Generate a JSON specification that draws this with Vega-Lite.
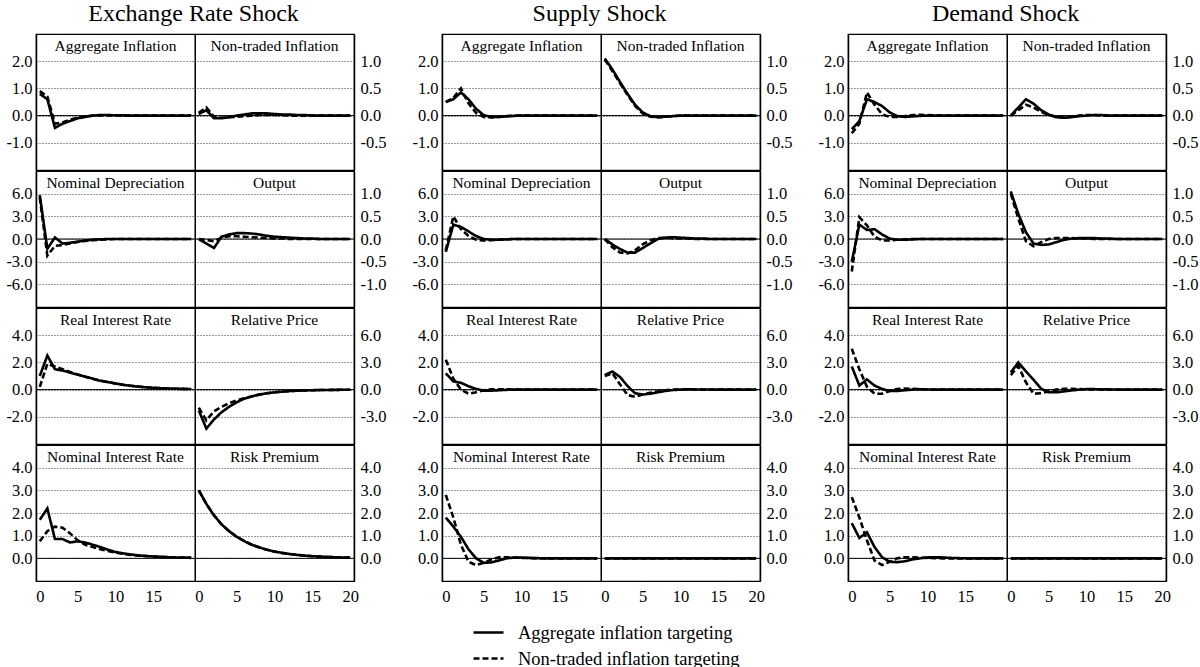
{"$schema":"https://vega.github.io/schema/vega-lite/v6.json","padding":{"top":2,"left":0,"right":0,"bottom":0},"autosize":{"type":"pad"},
"datasets":{
"E1":[{"t":0,"a":0.8,"n":0.9},{"t":1,"a":0.6,"n":0.7},{"t":2,"a":-0.45,"n":-0.3},{"t":3,"a":-0.3,"n":-0.25},{"t":4,"a":-0.2,"n":-0.15},{"t":5,"a":-0.1,"n":-0.08},{"t":6,"a":-0.05,"n":-0.03},{"t":7,"a":0,"n":0},{"t":8,"a":0.02,"n":0.01},{"t":9,"a":0.02,"n":0.01},{"t":10,"a":0.01,"n":0.01},{"t":11,"a":0.01,"n":0},{"t":12,"a":0,"n":0},{"t":13,"a":0,"n":0},{"t":14,"a":0,"n":0},{"t":15,"a":0,"n":0},{"t":16,"a":0,"n":0},{"t":17,"a":0,"n":0},{"t":18,"a":0,"n":0},{"t":19,"a":0,"n":0},{"t":20,"a":0,"n":0}],
"E2":[{"t":0,"a":0.03,"n":0.05},{"t":1,"a":0.1,"n":0.15},{"t":2,"a":-0.05,"n":-0.02},{"t":3,"a":-0.05,"n":-0.04},{"t":4,"a":-0.03,"n":-0.03},{"t":5,"a":0,"n":-0.02},{"t":6,"a":0.02,"n":-0.01},{"t":7,"a":0.04,"n":0},{"t":8,"a":0.04,"n":0.01},{"t":9,"a":0.04,"n":0.01},{"t":10,"a":0.03,"n":0.01},{"t":11,"a":0.02,"n":0.01},{"t":12,"a":0.02,"n":0},{"t":13,"a":0.01,"n":0},{"t":14,"a":0.01,"n":0},{"t":15,"a":0,"n":0},{"t":16,"a":0,"n":0},{"t":17,"a":0,"n":0},{"t":18,"a":0,"n":0},{"t":19,"a":0,"n":0},{"t":20,"a":0,"n":0}],
"E3":[{"t":0,"a":5.8,"n":5.5},{"t":1,"a":-1.3,"n":-2.2},{"t":2,"a":0.2,"n":-0.9},{"t":3,"a":-0.6,"n":-0.8},{"t":4,"a":-0.5,"n":-0.6},{"t":5,"a":-0.35,"n":-0.4},{"t":6,"a":-0.2,"n":-0.25},{"t":7,"a":-0.1,"n":-0.15},{"t":8,"a":-0.05,"n":-0.1},{"t":9,"a":0,"n":-0.05},{"t":10,"a":0,"n":0},{"t":11,"a":0,"n":0},{"t":12,"a":0,"n":0},{"t":13,"a":0,"n":0},{"t":14,"a":0,"n":0},{"t":15,"a":0,"n":0},{"t":16,"a":0,"n":0},{"t":17,"a":0,"n":0},{"t":18,"a":0,"n":0},{"t":19,"a":0,"n":0},{"t":20,"a":0,"n":0}],
"E4":[{"t":0,"a":0,"n":0},{"t":1,"a":-0.1,"n":-0.02},{"t":2,"a":-0.2,"n":-0.05},{"t":3,"a":0.05,"n":0.03},{"t":4,"a":0.1,"n":0.06},{"t":5,"a":0.13,"n":0.06},{"t":6,"a":0.13,"n":0.05},{"t":7,"a":0.12,"n":0.04},{"t":8,"a":0.1,"n":0.03},{"t":9,"a":0.07,"n":0.02},{"t":10,"a":0.05,"n":0.01},{"t":11,"a":0.04,"n":0.01},{"t":12,"a":0.03,"n":0},{"t":13,"a":0.02,"n":0},{"t":14,"a":0.01,"n":0},{"t":15,"a":0.01,"n":0},{"t":16,"a":0,"n":0},{"t":17,"a":0,"n":0},{"t":18,"a":0,"n":0},{"t":19,"a":0,"n":0},{"t":20,"a":0,"n":0}],
"E5":[{"t":0,"a":1.0,"n":0.2},{"t":1,"a":2.5,"n":1.9},{"t":2,"a":1.5,"n":1.7},{"t":3,"a":1.4,"n":1.5},{"t":4,"a":1.25,"n":1.3},{"t":5,"a":1.1,"n":1.12},{"t":6,"a":0.95,"n":0.95},{"t":7,"a":0.8,"n":0.8},{"t":8,"a":0.65,"n":0.66},{"t":9,"a":0.55,"n":0.55},{"t":10,"a":0.45,"n":0.45},{"t":11,"a":0.35,"n":0.36},{"t":12,"a":0.28,"n":0.28},{"t":13,"a":0.22,"n":0.22},{"t":14,"a":0.17,"n":0.17},{"t":15,"a":0.13,"n":0.13},{"t":16,"a":0.1,"n":0.1},{"t":17,"a":0.08,"n":0.08},{"t":18,"a":0.06,"n":0.06},{"t":19,"a":0.05,"n":0.05},{"t":20,"a":0.04,"n":0.04}],
"E6":[{"t":0,"a":-2.3,"n":-2.0},{"t":1,"a":-4.3,"n":-3.4},{"t":2,"a":-3.3,"n":-2.4},{"t":3,"a":-2.5,"n":-1.9},{"t":4,"a":-1.9,"n":-1.5},{"t":5,"a":-1.4,"n":-1.2},{"t":6,"a":-1.0,"n":-0.95},{"t":7,"a":-0.75,"n":-0.75},{"t":8,"a":-0.55,"n":-0.55},{"t":9,"a":-0.4,"n":-0.4},{"t":10,"a":-0.3,"n":-0.3},{"t":11,"a":-0.22,"n":-0.22},{"t":12,"a":-0.16,"n":-0.16},{"t":13,"a":-0.12,"n":-0.12},{"t":14,"a":-0.09,"n":-0.09},{"t":15,"a":-0.07,"n":-0.07},{"t":16,"a":-0.05,"n":-0.05},{"t":17,"a":-0.04,"n":-0.04},{"t":18,"a":-0.03,"n":-0.03},{"t":19,"a":-0.02,"n":-0.02},{"t":20,"a":-0.01,"n":-0.01}],
"E7":[{"t":0,"a":1.7,"n":0.75},{"t":1,"a":2.2,"n":1.2},{"t":2,"a":0.85,"n":1.4},{"t":3,"a":0.85,"n":1.35},{"t":4,"a":0.7,"n":1.1},{"t":5,"a":0.75,"n":0.8},{"t":6,"a":0.7,"n":0.6},{"t":7,"a":0.6,"n":0.5},{"t":8,"a":0.5,"n":0.4},{"t":9,"a":0.38,"n":0.32},{"t":10,"a":0.28,"n":0.25},{"t":11,"a":0.22,"n":0.2},{"t":12,"a":0.17,"n":0.15},{"t":13,"a":0.13,"n":0.12},{"t":14,"a":0.1,"n":0.1},{"t":15,"a":0.08,"n":0.08},{"t":16,"a":0.07,"n":0.06},{"t":17,"a":0.05,"n":0.05},{"t":18,"a":0.04,"n":0.04},{"t":19,"a":0.03,"n":0.03},{"t":20,"a":0.03,"n":0.02}],
"E8":[{"t":0,"a":3,"n":3},{"t":1,"a":2.4,"n":2.4},{"t":2,"a":1.9,"n":1.9},{"t":3,"a":1.5,"n":1.5},{"t":4,"a":1.2,"n":1.2},{"t":5,"a":0.95,"n":0.95},{"t":6,"a":0.76,"n":0.76},{"t":7,"a":0.6,"n":0.6},{"t":8,"a":0.48,"n":0.48},{"t":9,"a":0.38,"n":0.38},{"t":10,"a":0.3,"n":0.3},{"t":11,"a":0.24,"n":0.24},{"t":12,"a":0.19,"n":0.19},{"t":13,"a":0.15,"n":0.15},{"t":14,"a":0.12,"n":0.12},{"t":15,"a":0.095,"n":0.095},{"t":16,"a":0.076,"n":0.076},{"t":17,"a":0.06,"n":0.06},{"t":18,"a":0.048,"n":0.048},{"t":19,"a":0.038,"n":0.038},{"t":20,"a":0.03,"n":0.03}],
"S1":[{"t":0,"a":0.5,"n":0.5},{"t":1,"a":0.6,"n":0.65},{"t":2,"a":0.85,"n":1.0},{"t":3,"a":0.6,"n":0.45},{"t":4,"a":0.25,"n":0.1},{"t":5,"a":0.02,"n":-0.05},{"t":6,"a":-0.05,"n":-0.07},{"t":7,"a":-0.05,"n":-0.05},{"t":8,"a":-0.03,"n":-0.02},{"t":9,"a":-0.01,"n":0},{"t":10,"a":0,"n":0},{"t":11,"a":0,"n":0},{"t":12,"a":0,"n":0},{"t":13,"a":0,"n":0},{"t":14,"a":0,"n":0},{"t":15,"a":0,"n":0},{"t":16,"a":0,"n":0},{"t":17,"a":0,"n":0},{"t":18,"a":0,"n":0},{"t":19,"a":0,"n":0},{"t":20,"a":0,"n":0}],
"S2":[{"t":0,"a":1.05,"n":1.03},{"t":1,"a":0.85,"n":0.82},{"t":2,"a":0.62,"n":0.6},{"t":3,"a":0.4,"n":0.38},{"t":4,"a":0.2,"n":0.18},{"t":5,"a":0.06,"n":0.04},{"t":6,"a":-0.01,"n":-0.02},{"t":7,"a":-0.03,"n":-0.03},{"t":8,"a":-0.02,"n":-0.02},{"t":9,"a":-0.01,"n":-0.01},{"t":10,"a":0,"n":0},{"t":11,"a":0,"n":0},{"t":12,"a":0,"n":0},{"t":13,"a":0,"n":0},{"t":14,"a":0,"n":0},{"t":15,"a":0,"n":0},{"t":16,"a":0,"n":0},{"t":17,"a":0,"n":0},{"t":18,"a":0,"n":0},{"t":19,"a":0,"n":0},{"t":20,"a":0,"n":0}],
"S3":[{"t":0,"a":-1.7,"n":-1.5},{"t":1,"a":1.9,"n":3.0},{"t":2,"a":1.6,"n":1.3},{"t":3,"a":1.0,"n":0.4},{"t":4,"a":0.4,"n":-0.1},{"t":5,"a":0,"n":-0.2},{"t":6,"a":-0.1,"n":-0.15},{"t":7,"a":-0.1,"n":-0.1},{"t":8,"a":-0.05,"n":-0.05},{"t":9,"a":0,"n":0},{"t":10,"a":0,"n":0},{"t":11,"a":0,"n":0},{"t":12,"a":0,"n":0},{"t":13,"a":0,"n":0},{"t":14,"a":0,"n":0},{"t":15,"a":0,"n":0},{"t":16,"a":0,"n":0},{"t":17,"a":0,"n":0},{"t":18,"a":0,"n":0},{"t":19,"a":0,"n":0},{"t":20,"a":0,"n":0}],
"S4":[{"t":0,"a":0,"n":0},{"t":1,"a":-0.12,"n":-0.18},{"t":2,"a":-0.22,"n":-0.3},{"t":3,"a":-0.3,"n":-0.32},{"t":4,"a":-0.3,"n":-0.25},{"t":5,"a":-0.2,"n":-0.12},{"t":6,"a":-0.1,"n":-0.03},{"t":7,"a":0,"n":0.02},{"t":8,"a":0.03,"n":0.03},{"t":9,"a":0.04,"n":0.02},{"t":10,"a":0.03,"n":0.01},{"t":11,"a":0.02,"n":0.01},{"t":12,"a":0.01,"n":0},{"t":13,"a":0.01,"n":0},{"t":14,"a":0,"n":0},{"t":15,"a":0,"n":0},{"t":16,"a":0,"n":0},{"t":17,"a":0,"n":0},{"t":18,"a":0,"n":0},{"t":19,"a":0,"n":0},{"t":20,"a":0,"n":0}],
"S5":[{"t":0,"a":1.2,"n":2.2},{"t":1,"a":0.6,"n":0.8},{"t":2,"a":0.5,"n":0},{"t":3,"a":0.25,"n":-0.3},{"t":4,"a":0.05,"n":-0.2},{"t":5,"a":-0.08,"n":-0.05},{"t":6,"a":-0.08,"n":0.02},{"t":7,"a":-0.05,"n":0.03},{"t":8,"a":-0.02,"n":0.02},{"t":9,"a":0,"n":0.01},{"t":10,"a":0,"n":0},{"t":11,"a":0,"n":0},{"t":12,"a":0,"n":0},{"t":13,"a":0,"n":0},{"t":14,"a":0,"n":0},{"t":15,"a":0,"n":0},{"t":16,"a":0,"n":0},{"t":17,"a":0,"n":0},{"t":18,"a":0,"n":0},{"t":19,"a":0,"n":0},{"t":20,"a":0,"n":0}],
"S6":[{"t":0,"a":1.6,"n":1.5},{"t":1,"a":2.0,"n":1.8},{"t":2,"a":1.4,"n":0.6},{"t":3,"a":0.4,"n":-0.6},{"t":4,"a":-0.4,"n":-0.8},{"t":5,"a":-0.55,"n":-0.55},{"t":6,"a":-0.45,"n":-0.35},{"t":7,"a":-0.3,"n":-0.2},{"t":8,"a":-0.15,"n":-0.08},{"t":9,"a":-0.05,"n":0},{"t":10,"a":0,"n":0.02},{"t":11,"a":0.02,"n":0.02},{"t":12,"a":0.02,"n":0.01},{"t":13,"a":0.01,"n":0},{"t":14,"a":0,"n":0},{"t":15,"a":0,"n":0},{"t":16,"a":0,"n":0},{"t":17,"a":0,"n":0},{"t":18,"a":0,"n":0},{"t":19,"a":0,"n":0},{"t":20,"a":0,"n":0}],
"S7":[{"t":0,"a":1.8,"n":2.8},{"t":1,"a":1.4,"n":1.8},{"t":2,"a":0.95,"n":0.6},{"t":3,"a":0.4,"n":-0.15},{"t":4,"a":0,"n":-0.3},{"t":5,"a":-0.2,"n":-0.2},{"t":6,"a":-0.18,"n":-0.05},{"t":7,"a":-0.1,"n":0.05},{"t":8,"a":0,"n":0.05},{"t":9,"a":0.03,"n":0.03},{"t":10,"a":0.03,"n":0.02},{"t":11,"a":0.02,"n":0.01},{"t":12,"a":0.01,"n":0},{"t":13,"a":0,"n":0},{"t":14,"a":0,"n":0},{"t":15,"a":0,"n":0},{"t":16,"a":0,"n":0},{"t":17,"a":0,"n":0},{"t":18,"a":0,"n":0},{"t":19,"a":0,"n":0},{"t":20,"a":0,"n":0}],
"S8":[{"t":0,"a":0,"n":0},{"t":1,"a":0,"n":0},{"t":2,"a":0,"n":0},{"t":3,"a":0,"n":0},{"t":4,"a":0,"n":0},{"t":5,"a":0,"n":0},{"t":6,"a":0,"n":0},{"t":7,"a":0,"n":0},{"t":8,"a":0,"n":0},{"t":9,"a":0,"n":0},{"t":10,"a":0,"n":0},{"t":11,"a":0,"n":0},{"t":12,"a":0,"n":0},{"t":13,"a":0,"n":0},{"t":14,"a":0,"n":0},{"t":15,"a":0,"n":0},{"t":16,"a":0,"n":0},{"t":17,"a":0,"n":0},{"t":18,"a":0,"n":0},{"t":19,"a":0,"n":0},{"t":20,"a":0,"n":0}],
"D1":[{"t":0,"a":-0.5,"n":-0.65},{"t":1,"a":-0.2,"n":-0.3},{"t":2,"a":0.6,"n":0.85},{"t":3,"a":0.5,"n":0.4},{"t":4,"a":0.35,"n":0.05},{"t":5,"a":0.12,"n":-0.05},{"t":6,"a":-0.02,"n":-0.05},{"t":7,"a":-0.05,"n":-0.02},{"t":8,"a":-0.03,"n":0.02},{"t":9,"a":-0.01,"n":0.03},{"t":10,"a":0,"n":0.02},{"t":11,"a":0,"n":0.01},{"t":12,"a":0,"n":0},{"t":13,"a":0,"n":0},{"t":14,"a":0,"n":0},{"t":15,"a":0,"n":0},{"t":16,"a":0,"n":0},{"t":17,"a":0,"n":0},{"t":18,"a":0,"n":0},{"t":19,"a":0,"n":0},{"t":20,"a":0,"n":0}],
"D2":[{"t":0,"a":0,"n":0},{"t":1,"a":0.15,"n":0.1},{"t":2,"a":0.3,"n":0.2},{"t":3,"a":0.22,"n":0.15},{"t":4,"a":0.1,"n":0.07},{"t":5,"a":0.02,"n":0.01},{"t":6,"a":-0.03,"n":-0.02},{"t":7,"a":-0.04,"n":-0.03},{"t":8,"a":-0.03,"n":-0.02},{"t":9,"a":-0.01,"n":0},{"t":10,"a":0,"n":0.01},{"t":11,"a":0.01,"n":0.01},{"t":12,"a":0.01,"n":0},{"t":13,"a":0,"n":0},{"t":14,"a":0,"n":0},{"t":15,"a":0,"n":0},{"t":16,"a":0,"n":0},{"t":17,"a":0,"n":0},{"t":18,"a":0,"n":0},{"t":19,"a":0,"n":0},{"t":20,"a":0,"n":0}],
"D3":[{"t":0,"a":-3.0,"n":-4.3},{"t":1,"a":1.9,"n":2.9},{"t":2,"a":1.2,"n":1.8},{"t":3,"a":1.3,"n":0.3},{"t":4,"a":0.6,"n":-0.2},{"t":5,"a":0.05,"n":-0.2},{"t":6,"a":-0.1,"n":-0.1},{"t":7,"a":-0.1,"n":-0.05},{"t":8,"a":-0.05,"n":0},{"t":9,"a":0,"n":0},{"t":10,"a":0,"n":0},{"t":11,"a":0,"n":0},{"t":12,"a":0,"n":0},{"t":13,"a":0,"n":0},{"t":14,"a":0,"n":0},{"t":15,"a":0,"n":0},{"t":16,"a":0,"n":0},{"t":17,"a":0,"n":0},{"t":18,"a":0,"n":0},{"t":19,"a":0,"n":0},{"t":20,"a":0,"n":0}],
"D4":[{"t":0,"a":1.05,"n":1.0},{"t":1,"a":0.55,"n":0.45},{"t":2,"a":0.15,"n":-0.05},{"t":3,"a":-0.1,"n":-0.16},{"t":4,"a":-0.13,"n":-0.07},{"t":5,"a":-0.12,"n":0},{"t":6,"a":-0.07,"n":0.02},{"t":7,"a":-0.02,"n":0.02},{"t":8,"a":0.01,"n":0.02},{"t":9,"a":0.02,"n":0.01},{"t":10,"a":0.02,"n":0.01},{"t":11,"a":0.02,"n":0},{"t":12,"a":0.01,"n":0},{"t":13,"a":0.01,"n":0},{"t":14,"a":0,"n":0},{"t":15,"a":0,"n":0},{"t":16,"a":0,"n":0},{"t":17,"a":0,"n":0},{"t":18,"a":0,"n":0},{"t":19,"a":0,"n":0},{"t":20,"a":0,"n":0}],
"D5":[{"t":0,"a":1.7,"n":3.0},{"t":1,"a":0.3,"n":1.5},{"t":2,"a":0.75,"n":0.2},{"t":3,"a":0.3,"n":-0.3},{"t":4,"a":0.05,"n":-0.3},{"t":5,"a":-0.1,"n":-0.1},{"t":6,"a":-0.1,"n":0.05},{"t":7,"a":-0.05,"n":0.08},{"t":8,"a":0,"n":0.06},{"t":9,"a":0.02,"n":0.03},{"t":10,"a":0.01,"n":0.01},{"t":11,"a":0,"n":0},{"t":12,"a":0,"n":0},{"t":13,"a":0,"n":0},{"t":14,"a":0,"n":0},{"t":15,"a":0,"n":0},{"t":16,"a":0,"n":0},{"t":17,"a":0,"n":0},{"t":18,"a":0,"n":0},{"t":19,"a":0,"n":0},{"t":20,"a":0,"n":0}],
"D6":[{"t":0,"a":1.9,"n":1.6},{"t":1,"a":3.0,"n":2.6},{"t":2,"a":2.0,"n":0.8},{"t":3,"a":1.1,"n":-0.45},{"t":4,"a":0.1,"n":-0.4},{"t":5,"a":-0.3,"n":-0.2},{"t":6,"a":-0.3,"n":0},{"t":7,"a":-0.2,"n":0.1},{"t":8,"a":-0.1,"n":0.1},{"t":9,"a":0,"n":0.05},{"t":10,"a":0.05,"n":0.02},{"t":11,"a":0.05,"n":0.01},{"t":12,"a":0.03,"n":0},{"t":13,"a":0.02,"n":0},{"t":14,"a":0.01,"n":0},{"t":15,"a":0,"n":0},{"t":16,"a":0,"n":0},{"t":17,"a":0,"n":0},{"t":18,"a":0,"n":0},{"t":19,"a":0,"n":0},{"t":20,"a":0,"n":0}],
"D7":[{"t":0,"a":1.55,"n":2.7},{"t":1,"a":0.9,"n":1.8},{"t":2,"a":1.15,"n":0.8},{"t":3,"a":0.5,"n":-0.1},{"t":4,"a":0.05,"n":-0.3},{"t":5,"a":-0.15,"n":-0.15},{"t":6,"a":-0.17,"n":0},{"t":7,"a":-0.13,"n":0.05},{"t":8,"a":-0.05,"n":0.05},{"t":9,"a":0,"n":0.03},{"t":10,"a":0.04,"n":0.02},{"t":11,"a":0.05,"n":0.01},{"t":12,"a":0.04,"n":0},{"t":13,"a":0.02,"n":0},{"t":14,"a":0.01,"n":0},{"t":15,"a":0,"n":0},{"t":16,"a":0,"n":0},{"t":17,"a":0,"n":0},{"t":18,"a":0,"n":0},{"t":19,"a":0,"n":0},{"t":20,"a":0,"n":0}],
"D8":[{"t":0,"a":0,"n":0},{"t":1,"a":0,"n":0},{"t":2,"a":0,"n":0},{"t":3,"a":0,"n":0},{"t":4,"a":0,"n":0},{"t":5,"a":0,"n":0},{"t":6,"a":0,"n":0},{"t":7,"a":0,"n":0},{"t":8,"a":0,"n":0},{"t":9,"a":0,"n":0},{"t":10,"a":0,"n":0},{"t":11,"a":0,"n":0},{"t":12,"a":0,"n":0},{"t":13,"a":0,"n":0},{"t":14,"a":0,"n":0},{"t":15,"a":0,"n":0},{"t":16,"a":0,"n":0},{"t":17,"a":0,"n":0},{"t":18,"a":0,"n":0},{"t":19,"a":0,"n":0},{"t":20,"a":0,"n":0}]
},
"spacing":19,
"hconcat":[
{"title":{"text":"Exchange Rate Shock","fontSize":24,"offset":7,"anchor":"middle"},"spacing":-4,"vconcat":[
{"spacing":0,"bounds":"flush","hconcat":[
{"width":159,"height":136,"title":"Aggregate Inflation","data":{"name":"E1"},"layer":[{"data":{"values":[{}]},"mark":"rule","encoding":{"y":{"datum":0}}},{"transform":[{"fold":["a","n"],"as":["p","y"]}],"mark":"line","encoding":{"x":{"field":"t","type":"quantitative","scale":{"domain":[-0.5,20.5],"nice":false},"axis":null},"y":{"field":"y","type":"quantitative","scale":{"domain":[-2,3],"nice":false},"axis":{"orient":"left","values":[-1,0,1,2],"tickCount":20,"format":".1f","labelOverlap":false,"labelExpr":"replace(datum.label,'\u2212','-')","title":null}},"strokeDash":{"field":"p","type":"nominal","title":null,"scale":{"domain":["a","n"],"range":[[1,0],[6,3]]},"legend":{"labelExpr":"datum.value=='a'?'Aggregate inflation targeting':'Non-traded inflation targeting'"}}}}]},
{"width":159,"height":136,"title":"Non-traded Inflation","data":{"name":"E2"},"layer":[{"data":{"values":[{}]},"mark":"rule","encoding":{"y":{"datum":0}}},{"transform":[{"fold":["a","n"],"as":["p","y"]}],"mark":"line","encoding":{"x":{"field":"t","type":"quantitative","scale":{"domain":[-0.5,20.5],"nice":false},"axis":null},"y":{"field":"y","type":"quantitative","scale":{"domain":[-1,1.5],"nice":false},"axis":{"orient":"right","values":[-0.5,0,0.5,1],"tickCount":20,"format":".1f","labelOverlap":false,"labelExpr":"replace(datum.label,'\u2212','-')","title":null}},"strokeDash":{"field":"p","type":"nominal","title":null,"scale":{"domain":["a","n"],"range":[[1,0],[6,3]]},"legend":{"labelExpr":"datum.value=='a'?'Aggregate inflation targeting':'Non-traded inflation targeting'"}}}}]}]},
{"spacing":0,"bounds":"flush","hconcat":[
{"width":159,"height":136,"title":"Nominal Depreciation","data":{"name":"E3"},"layer":[{"data":{"values":[{}]},"mark":"rule","encoding":{"y":{"datum":0}}},{"transform":[{"fold":["a","n"],"as":["p","y"]}],"mark":"line","encoding":{"x":{"field":"t","type":"quantitative","scale":{"domain":[-0.5,20.5],"nice":false},"axis":null},"y":{"field":"y","type":"quantitative","scale":{"domain":[-9,9],"nice":false},"axis":{"orient":"left","values":[-6,-3,0,3,6],"tickCount":20,"format":".1f","labelOverlap":false,"labelExpr":"replace(datum.label,'\u2212','-')","title":null}},"strokeDash":{"field":"p","type":"nominal","title":null,"scale":{"domain":["a","n"],"range":[[1,0],[6,3]]},"legend":{"labelExpr":"datum.value=='a'?'Aggregate inflation targeting':'Non-traded inflation targeting'"}}}}]},
{"width":159,"height":136,"title":"Output","data":{"name":"E4"},"layer":[{"data":{"values":[{}]},"mark":"rule","encoding":{"y":{"datum":0}}},{"transform":[{"fold":["a","n"],"as":["p","y"]}],"mark":"line","encoding":{"x":{"field":"t","type":"quantitative","scale":{"domain":[-0.5,20.5],"nice":false},"axis":null},"y":{"field":"y","type":"quantitative","scale":{"domain":[-1.5,1.5],"nice":false},"axis":{"orient":"right","values":[-1,-0.5,0,0.5,1],"tickCount":20,"format":".1f","labelOverlap":false,"labelExpr":"replace(datum.label,'\u2212','-')","title":null}},"strokeDash":{"field":"p","type":"nominal","title":null,"scale":{"domain":["a","n"],"range":[[1,0],[6,3]]},"legend":{"labelExpr":"datum.value=='a'?'Aggregate inflation targeting':'Non-traded inflation targeting'"}}}}]}]},
{"spacing":0,"bounds":"flush","hconcat":[
{"width":159,"height":136,"title":"Real Interest Rate","data":{"name":"E5"},"layer":[{"data":{"values":[{}]},"mark":"rule","encoding":{"y":{"datum":0}}},{"transform":[{"fold":["a","n"],"as":["p","y"]}],"mark":"line","encoding":{"x":{"field":"t","type":"quantitative","scale":{"domain":[-0.5,20.5],"nice":false},"axis":null},"y":{"field":"y","type":"quantitative","scale":{"domain":[-4,6],"nice":false},"axis":{"orient":"left","values":[-2,0,2,4],"tickCount":20,"format":".1f","labelOverlap":false,"labelExpr":"replace(datum.label,'\u2212','-')","title":null}},"strokeDash":{"field":"p","type":"nominal","title":null,"scale":{"domain":["a","n"],"range":[[1,0],[6,3]]},"legend":{"labelExpr":"datum.value=='a'?'Aggregate inflation targeting':'Non-traded inflation targeting'"}}}}]},
{"width":159,"height":136,"title":"Relative Price","data":{"name":"E6"},"layer":[{"data":{"values":[{}]},"mark":"rule","encoding":{"y":{"datum":0}}},{"transform":[{"fold":["a","n"],"as":["p","y"]}],"mark":"line","encoding":{"x":{"field":"t","type":"quantitative","scale":{"domain":[-0.5,20.5],"nice":false},"axis":null},"y":{"field":"y","type":"quantitative","scale":{"domain":[-6,9],"nice":false},"axis":{"orient":"right","values":[-3,0,3,6],"tickCount":20,"format":".1f","labelOverlap":false,"labelExpr":"replace(datum.label,'\u2212','-')","title":null}},"strokeDash":{"field":"p","type":"nominal","title":null,"scale":{"domain":["a","n"],"range":[[1,0],[6,3]]},"legend":{"labelExpr":"datum.value=='a'?'Aggregate inflation targeting':'Non-traded inflation targeting'"}}}}]}]},
{"spacing":0,"bounds":"flush","hconcat":[
{"width":159,"height":136,"title":"Nominal Interest Rate","data":{"name":"E7"},"layer":[{"data":{"values":[{}]},"mark":"rule","encoding":{"y":{"datum":0}}},{"transform":[{"fold":["a","n"],"as":["p","y"]}],"mark":"line","encoding":{"x":{"field":"t","type":"quantitative","scale":{"domain":[-0.5,20.5],"nice":false},"axis":{"values":[0,5,10,15],"tickCount":20,"labelOverlap":false,"title":null}},"y":{"field":"y","type":"quantitative","scale":{"domain":[-1,5],"nice":false},"axis":{"orient":"left","values":[0,1,2,3,4],"tickCount":20,"format":".1f","labelOverlap":false,"labelExpr":"replace(datum.label,'\u2212','-')","title":null}},"strokeDash":{"field":"p","type":"nominal","title":null,"scale":{"domain":["a","n"],"range":[[1,0],[6,3]]},"legend":{"labelExpr":"datum.value=='a'?'Aggregate inflation targeting':'Non-traded inflation targeting'"}}}}]},
{"width":159,"height":136,"title":"Risk Premium","data":{"name":"E8"},"layer":[{"data":{"values":[{}]},"mark":"rule","encoding":{"y":{"datum":0}}},{"transform":[{"fold":["a","n"],"as":["p","y"]}],"mark":"line","encoding":{"x":{"field":"t","type":"quantitative","scale":{"domain":[-0.5,20.5],"nice":false},"axis":{"values":[0,5,10,15,20],"tickCount":20,"labelOverlap":false,"title":null}},"y":{"field":"y","type":"quantitative","scale":{"domain":[-1,5],"nice":false},"axis":{"orient":"right","values":[0,1,2,3,4],"tickCount":20,"format":".1f","labelOverlap":false,"labelExpr":"replace(datum.label,'\u2212','-')","title":null}},"strokeDash":{"field":"p","type":"nominal","title":null,"scale":{"domain":["a","n"],"range":[[1,0],[6,3]]},"legend":{"labelExpr":"datum.value=='a'?'Aggregate inflation targeting':'Non-traded inflation targeting'"}}}}]}]}
]},
{"title":{"text":"Supply Shock","fontSize":24,"offset":7,"anchor":"middle"},"spacing":-4,"vconcat":[
{"spacing":0,"bounds":"flush","hconcat":[
{"width":159,"height":136,"title":"Aggregate Inflation","data":{"name":"S1"},"layer":[{"data":{"values":[{}]},"mark":"rule","encoding":{"y":{"datum":0}}},{"transform":[{"fold":["a","n"],"as":["p","y"]}],"mark":"line","encoding":{"x":{"field":"t","type":"quantitative","scale":{"domain":[-0.5,20.5],"nice":false},"axis":null},"y":{"field":"y","type":"quantitative","scale":{"domain":[-2,3],"nice":false},"axis":{"orient":"left","values":[-1,0,1,2],"tickCount":20,"format":".1f","labelOverlap":false,"labelExpr":"replace(datum.label,'\u2212','-')","title":null}},"strokeDash":{"field":"p","type":"nominal","title":null,"scale":{"domain":["a","n"],"range":[[1,0],[6,3]]},"legend":{"labelExpr":"datum.value=='a'?'Aggregate inflation targeting':'Non-traded inflation targeting'"}}}}]},
{"width":159,"height":136,"title":"Non-traded Inflation","data":{"name":"S2"},"layer":[{"data":{"values":[{}]},"mark":"rule","encoding":{"y":{"datum":0}}},{"transform":[{"fold":["a","n"],"as":["p","y"]}],"mark":"line","encoding":{"x":{"field":"t","type":"quantitative","scale":{"domain":[-0.5,20.5],"nice":false},"axis":null},"y":{"field":"y","type":"quantitative","scale":{"domain":[-1,1.5],"nice":false},"axis":{"orient":"right","values":[-0.5,0,0.5,1],"tickCount":20,"format":".1f","labelOverlap":false,"labelExpr":"replace(datum.label,'\u2212','-')","title":null}},"strokeDash":{"field":"p","type":"nominal","title":null,"scale":{"domain":["a","n"],"range":[[1,0],[6,3]]},"legend":{"labelExpr":"datum.value=='a'?'Aggregate inflation targeting':'Non-traded inflation targeting'"}}}}]}]},
{"spacing":0,"bounds":"flush","hconcat":[
{"width":159,"height":136,"title":"Nominal Depreciation","data":{"name":"S3"},"layer":[{"data":{"values":[{}]},"mark":"rule","encoding":{"y":{"datum":0}}},{"transform":[{"fold":["a","n"],"as":["p","y"]}],"mark":"line","encoding":{"x":{"field":"t","type":"quantitative","scale":{"domain":[-0.5,20.5],"nice":false},"axis":null},"y":{"field":"y","type":"quantitative","scale":{"domain":[-9,9],"nice":false},"axis":{"orient":"left","values":[-6,-3,0,3,6],"tickCount":20,"format":".1f","labelOverlap":false,"labelExpr":"replace(datum.label,'\u2212','-')","title":null}},"strokeDash":{"field":"p","type":"nominal","title":null,"scale":{"domain":["a","n"],"range":[[1,0],[6,3]]},"legend":{"labelExpr":"datum.value=='a'?'Aggregate inflation targeting':'Non-traded inflation targeting'"}}}}]},
{"width":159,"height":136,"title":"Output","data":{"name":"S4"},"layer":[{"data":{"values":[{}]},"mark":"rule","encoding":{"y":{"datum":0}}},{"transform":[{"fold":["a","n"],"as":["p","y"]}],"mark":"line","encoding":{"x":{"field":"t","type":"quantitative","scale":{"domain":[-0.5,20.5],"nice":false},"axis":null},"y":{"field":"y","type":"quantitative","scale":{"domain":[-1.5,1.5],"nice":false},"axis":{"orient":"right","values":[-1,-0.5,0,0.5,1],"tickCount":20,"format":".1f","labelOverlap":false,"labelExpr":"replace(datum.label,'\u2212','-')","title":null}},"strokeDash":{"field":"p","type":"nominal","title":null,"scale":{"domain":["a","n"],"range":[[1,0],[6,3]]},"legend":{"labelExpr":"datum.value=='a'?'Aggregate inflation targeting':'Non-traded inflation targeting'"}}}}]}]},
{"spacing":0,"bounds":"flush","hconcat":[
{"width":159,"height":136,"title":"Real Interest Rate","data":{"name":"S5"},"layer":[{"data":{"values":[{}]},"mark":"rule","encoding":{"y":{"datum":0}}},{"transform":[{"fold":["a","n"],"as":["p","y"]}],"mark":"line","encoding":{"x":{"field":"t","type":"quantitative","scale":{"domain":[-0.5,20.5],"nice":false},"axis":null},"y":{"field":"y","type":"quantitative","scale":{"domain":[-4,6],"nice":false},"axis":{"orient":"left","values":[-2,0,2,4],"tickCount":20,"format":".1f","labelOverlap":false,"labelExpr":"replace(datum.label,'\u2212','-')","title":null}},"strokeDash":{"field":"p","type":"nominal","title":null,"scale":{"domain":["a","n"],"range":[[1,0],[6,3]]},"legend":{"labelExpr":"datum.value=='a'?'Aggregate inflation targeting':'Non-traded inflation targeting'"}}}}]},
{"width":159,"height":136,"title":"Relative Price","data":{"name":"S6"},"layer":[{"data":{"values":[{}]},"mark":"rule","encoding":{"y":{"datum":0}}},{"transform":[{"fold":["a","n"],"as":["p","y"]}],"mark":"line","encoding":{"x":{"field":"t","type":"quantitative","scale":{"domain":[-0.5,20.5],"nice":false},"axis":null},"y":{"field":"y","type":"quantitative","scale":{"domain":[-6,9],"nice":false},"axis":{"orient":"right","values":[-3,0,3,6],"tickCount":20,"format":".1f","labelOverlap":false,"labelExpr":"replace(datum.label,'\u2212','-')","title":null}},"strokeDash":{"field":"p","type":"nominal","title":null,"scale":{"domain":["a","n"],"range":[[1,0],[6,3]]},"legend":{"labelExpr":"datum.value=='a'?'Aggregate inflation targeting':'Non-traded inflation targeting'"}}}}]}]},
{"spacing":0,"bounds":"flush","hconcat":[
{"width":159,"height":136,"title":"Nominal Interest Rate","data":{"name":"S7"},"layer":[{"data":{"values":[{}]},"mark":"rule","encoding":{"y":{"datum":0}}},{"transform":[{"fold":["a","n"],"as":["p","y"]}],"mark":"line","encoding":{"x":{"field":"t","type":"quantitative","scale":{"domain":[-0.5,20.5],"nice":false},"axis":{"values":[0,5,10,15],"tickCount":20,"labelOverlap":false,"title":null}},"y":{"field":"y","type":"quantitative","scale":{"domain":[-1,5],"nice":false},"axis":{"orient":"left","values":[0,1,2,3,4],"tickCount":20,"format":".1f","labelOverlap":false,"labelExpr":"replace(datum.label,'\u2212','-')","title":null}},"strokeDash":{"field":"p","type":"nominal","title":null,"scale":{"domain":["a","n"],"range":[[1,0],[6,3]]},"legend":{"labelExpr":"datum.value=='a'?'Aggregate inflation targeting':'Non-traded inflation targeting'"}}}}]},
{"width":159,"height":136,"title":"Risk Premium","data":{"name":"S8"},"layer":[{"data":{"values":[{}]},"mark":"rule","encoding":{"y":{"datum":0}}},{"transform":[{"fold":["a","n"],"as":["p","y"]}],"mark":"line","encoding":{"x":{"field":"t","type":"quantitative","scale":{"domain":[-0.5,20.5],"nice":false},"axis":{"values":[0,5,10,15,20],"tickCount":20,"labelOverlap":false,"title":null}},"y":{"field":"y","type":"quantitative","scale":{"domain":[-1,5],"nice":false},"axis":{"orient":"right","values":[0,1,2,3,4],"tickCount":20,"format":".1f","labelOverlap":false,"labelExpr":"replace(datum.label,'\u2212','-')","title":null}},"strokeDash":{"field":"p","type":"nominal","title":null,"scale":{"domain":["a","n"],"range":[[1,0],[6,3]]},"legend":{"labelExpr":"datum.value=='a'?'Aggregate inflation targeting':'Non-traded inflation targeting'"}}}}]}]}
]},
{"title":{"text":"Demand Shock","fontSize":24,"offset":7,"anchor":"middle"},"spacing":-4,"vconcat":[
{"spacing":0,"bounds":"flush","hconcat":[
{"width":159,"height":136,"title":"Aggregate Inflation","data":{"name":"D1"},"layer":[{"data":{"values":[{}]},"mark":"rule","encoding":{"y":{"datum":0}}},{"transform":[{"fold":["a","n"],"as":["p","y"]}],"mark":"line","encoding":{"x":{"field":"t","type":"quantitative","scale":{"domain":[-0.5,20.5],"nice":false},"axis":null},"y":{"field":"y","type":"quantitative","scale":{"domain":[-2,3],"nice":false},"axis":{"orient":"left","values":[-1,0,1,2],"tickCount":20,"format":".1f","labelOverlap":false,"labelExpr":"replace(datum.label,'\u2212','-')","title":null}},"strokeDash":{"field":"p","type":"nominal","title":null,"scale":{"domain":["a","n"],"range":[[1,0],[6,3]]},"legend":{"labelExpr":"datum.value=='a'?'Aggregate inflation targeting':'Non-traded inflation targeting'"}}}}]},
{"width":159,"height":136,"title":"Non-traded Inflation","data":{"name":"D2"},"layer":[{"data":{"values":[{}]},"mark":"rule","encoding":{"y":{"datum":0}}},{"transform":[{"fold":["a","n"],"as":["p","y"]}],"mark":"line","encoding":{"x":{"field":"t","type":"quantitative","scale":{"domain":[-0.5,20.5],"nice":false},"axis":null},"y":{"field":"y","type":"quantitative","scale":{"domain":[-1,1.5],"nice":false},"axis":{"orient":"right","values":[-0.5,0,0.5,1],"tickCount":20,"format":".1f","labelOverlap":false,"labelExpr":"replace(datum.label,'\u2212','-')","title":null}},"strokeDash":{"field":"p","type":"nominal","title":null,"scale":{"domain":["a","n"],"range":[[1,0],[6,3]]},"legend":{"labelExpr":"datum.value=='a'?'Aggregate inflation targeting':'Non-traded inflation targeting'"}}}}]}]},
{"spacing":0,"bounds":"flush","hconcat":[
{"width":159,"height":136,"title":"Nominal Depreciation","data":{"name":"D3"},"layer":[{"data":{"values":[{}]},"mark":"rule","encoding":{"y":{"datum":0}}},{"transform":[{"fold":["a","n"],"as":["p","y"]}],"mark":"line","encoding":{"x":{"field":"t","type":"quantitative","scale":{"domain":[-0.5,20.5],"nice":false},"axis":null},"y":{"field":"y","type":"quantitative","scale":{"domain":[-9,9],"nice":false},"axis":{"orient":"left","values":[-6,-3,0,3,6],"tickCount":20,"format":".1f","labelOverlap":false,"labelExpr":"replace(datum.label,'\u2212','-')","title":null}},"strokeDash":{"field":"p","type":"nominal","title":null,"scale":{"domain":["a","n"],"range":[[1,0],[6,3]]},"legend":{"labelExpr":"datum.value=='a'?'Aggregate inflation targeting':'Non-traded inflation targeting'"}}}}]},
{"width":159,"height":136,"title":"Output","data":{"name":"D4"},"layer":[{"data":{"values":[{}]},"mark":"rule","encoding":{"y":{"datum":0}}},{"transform":[{"fold":["a","n"],"as":["p","y"]}],"mark":"line","encoding":{"x":{"field":"t","type":"quantitative","scale":{"domain":[-0.5,20.5],"nice":false},"axis":null},"y":{"field":"y","type":"quantitative","scale":{"domain":[-1.5,1.5],"nice":false},"axis":{"orient":"right","values":[-1,-0.5,0,0.5,1],"tickCount":20,"format":".1f","labelOverlap":false,"labelExpr":"replace(datum.label,'\u2212','-')","title":null}},"strokeDash":{"field":"p","type":"nominal","title":null,"scale":{"domain":["a","n"],"range":[[1,0],[6,3]]},"legend":{"labelExpr":"datum.value=='a'?'Aggregate inflation targeting':'Non-traded inflation targeting'"}}}}]}]},
{"spacing":0,"bounds":"flush","hconcat":[
{"width":159,"height":136,"title":"Real Interest Rate","data":{"name":"D5"},"layer":[{"data":{"values":[{}]},"mark":"rule","encoding":{"y":{"datum":0}}},{"transform":[{"fold":["a","n"],"as":["p","y"]}],"mark":"line","encoding":{"x":{"field":"t","type":"quantitative","scale":{"domain":[-0.5,20.5],"nice":false},"axis":null},"y":{"field":"y","type":"quantitative","scale":{"domain":[-4,6],"nice":false},"axis":{"orient":"left","values":[-2,0,2,4],"tickCount":20,"format":".1f","labelOverlap":false,"labelExpr":"replace(datum.label,'\u2212','-')","title":null}},"strokeDash":{"field":"p","type":"nominal","title":null,"scale":{"domain":["a","n"],"range":[[1,0],[6,3]]},"legend":{"labelExpr":"datum.value=='a'?'Aggregate inflation targeting':'Non-traded inflation targeting'"}}}}]},
{"width":159,"height":136,"title":"Relative Price","data":{"name":"D6"},"layer":[{"data":{"values":[{}]},"mark":"rule","encoding":{"y":{"datum":0}}},{"transform":[{"fold":["a","n"],"as":["p","y"]}],"mark":"line","encoding":{"x":{"field":"t","type":"quantitative","scale":{"domain":[-0.5,20.5],"nice":false},"axis":null},"y":{"field":"y","type":"quantitative","scale":{"domain":[-6,9],"nice":false},"axis":{"orient":"right","values":[-3,0,3,6],"tickCount":20,"format":".1f","labelOverlap":false,"labelExpr":"replace(datum.label,'\u2212','-')","title":null}},"strokeDash":{"field":"p","type":"nominal","title":null,"scale":{"domain":["a","n"],"range":[[1,0],[6,3]]},"legend":{"labelExpr":"datum.value=='a'?'Aggregate inflation targeting':'Non-traded inflation targeting'"}}}}]}]},
{"spacing":0,"bounds":"flush","hconcat":[
{"width":159,"height":136,"title":"Nominal Interest Rate","data":{"name":"D7"},"layer":[{"data":{"values":[{}]},"mark":"rule","encoding":{"y":{"datum":0}}},{"transform":[{"fold":["a","n"],"as":["p","y"]}],"mark":"line","encoding":{"x":{"field":"t","type":"quantitative","scale":{"domain":[-0.5,20.5],"nice":false},"axis":{"values":[0,5,10,15],"tickCount":20,"labelOverlap":false,"title":null}},"y":{"field":"y","type":"quantitative","scale":{"domain":[-1,5],"nice":false},"axis":{"orient":"left","values":[0,1,2,3,4],"tickCount":20,"format":".1f","labelOverlap":false,"labelExpr":"replace(datum.label,'\u2212','-')","title":null}},"strokeDash":{"field":"p","type":"nominal","title":null,"scale":{"domain":["a","n"],"range":[[1,0],[6,3]]},"legend":{"labelExpr":"datum.value=='a'?'Aggregate inflation targeting':'Non-traded inflation targeting'"}}}}]},
{"width":159,"height":136,"title":"Risk Premium","data":{"name":"D8"},"layer":[{"data":{"values":[{}]},"mark":"rule","encoding":{"y":{"datum":0}}},{"transform":[{"fold":["a","n"],"as":["p","y"]}],"mark":"line","encoding":{"x":{"field":"t","type":"quantitative","scale":{"domain":[-0.5,20.5],"nice":false},"axis":{"values":[0,5,10,15,20],"tickCount":20,"labelOverlap":false,"title":null}},"y":{"field":"y","type":"quantitative","scale":{"domain":[-1,5],"nice":false},"axis":{"orient":"right","values":[0,1,2,3,4],"tickCount":20,"format":".1f","labelOverlap":false,"labelExpr":"replace(datum.label,'\u2212','-')","title":null}},"strokeDash":{"field":"p","type":"nominal","title":null,"scale":{"domain":["a","n"],"range":[[1,0],[6,3]]},"legend":{"labelExpr":"datum.value=='a'?'Aggregate inflation targeting':'Non-traded inflation targeting'"}}}}]}]}
]}
],
"config":{
"font":"Liberation Serif",
"view":{"stroke":"black","strokeWidth":1.2},
"line":{"color":"black","strokeWidth":2.6},
"rule":{"color":"black","strokeWidth":1},
"title":{"font":"Liberation Serif","fontSize":15.5,"fontWeight":"normal","color":"black","offset":-20,"anchor":"middle"},
"axis":{"labelFont":"Liberation Serif","labelFontSize":16.5,"labelColor":"black","domainColor":"black","domainWidth":1.5,"ticks":false,"grid":false,"labelOverlap":false,"labelFlush":false},
"axisY":{"grid":true,"gridDash":[1,2],"gridColor":"black","gridWidth":0.8,"gridOpacity":1},
"axisLeft":{"labelPadding":4,"minExtent":35,"maxExtent":35},
"axisRight":{"labelPadding":6,"minExtent":32,"maxExtent":32},
"axisX":{"domain":false,"labelPadding":7},
"legend":{"orient":"none","legendX":436,"legendY":582,"symbolType":"stroke","symbolSize":900,"symbolStrokeWidth":2.6,"symbolStrokeColor":"black","labelFont":"Liberation Serif","labelFontSize":18.5,"labelColor":"black","labelLimit":0,"rowPadding":-5,"padding":0,"labelOffset":13}
}
}
